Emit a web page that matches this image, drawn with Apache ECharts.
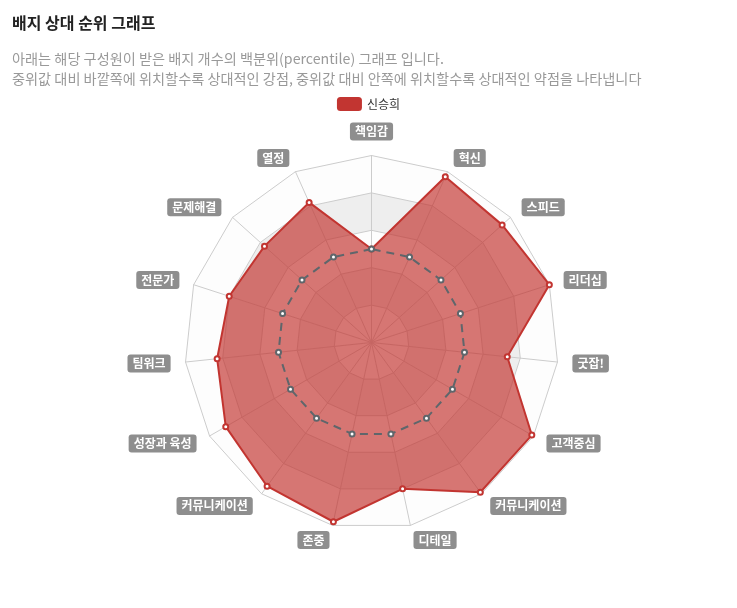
<!DOCTYPE html>
<html>
<head>
<meta charset="utf-8">
<script src="https://cdn.jsdelivr.net/npm/echarts@6/dist/echarts.min.js"></script>
<style>
    html, body { margin: 0; padding: 0; background: #fff; }
    #main { width: 737px; height: 608px; }
</style>
</head>
<body>
<div id="main"></div>
<script>
// 지표 (위에서부터 반시계 방향)
var badgeNames = ['책임감', '열정', '문제해결', '전문가', '팀워크', '성장과 육성', '커뮤니케이션',
    '존중', '디테일', '커뮤니케이션', '고객중심', '굿잡!', '리더십', '스피드', '혁신'];
var memberValues = [50, 82, 77, 80, 83, 90, 95, 98, 80, 99, 99, 73, 100, 94, 97];
var medianValues = [50, 50, 50, 50, 50, 50, 50, 50, 50, 50, 50, 50, 50, 50, 50];
var memberName = '신승희';

var myChart = echarts.init(document.getElementById('main'));

var option = {
    textStyle: {
        fontFamily: 'Noto Sans CJK KR'
    },
    title: {
        text: '배지 상대 순위 그래프',
        subtext: '아래는 해당 구성원이 받은 배지 개수의 백분위(percentile) 그래프 입니다.\n중위값 대비 바깥쪽에 위치할수록 상대적인 강점, 중위값 대비 안쪽에 위치할수록 상대적인 약점을 나타냅니다',
        left: 7,
        top: 10,
        itemGap: 18,
        textStyle: {
            color: '#222',
            fontSize: 16,
            fontWeight: 'bold',
            fontFamily: 'Noto Sans CJK KR'
        },
        subtextStyle: {
            color: '#999',
            fontSize: 14.2,
            lineHeight: 20,
            fontFamily: 'Noto Sans CJK KR'
        }
    },
    legend: {
        data: [memberName],
        top: 92,
        left: 'center',
        itemWidth: 25,
        itemHeight: 14,
        textStyle: {
            color: '#333',
            fontSize: 12
        }
    },
    radar: {
        center: [371.5, 342.5],
        radius: 187,
        splitNumber: 5,
        nameGap: 15,
        indicator: badgeNames.map(function (n) {
            return {name: n, max: 100};
        }),
        axisName: {
            color: '#fff',
            backgroundColor: '#8e8e8e',
            borderRadius: 3,
            padding: [3, 5],
            fontSize: 12,
            fontWeight: 'bold'
        },
        axisLine: {
            lineStyle: {color: '#ccc'}
        },
        splitLine: {
            lineStyle: {color: '#ccc'}
        },
        splitArea: {
            show: true,
            areaStyle: {
                color: ['rgba(250,250,250,0.3)', 'rgba(200,200,200,0.3)']
            }
        }
    },
    series: [
        {
            type: 'radar',
            data: [
                {
                    value: memberValues,
                    name: memberName,
                    symbol: 'emptyCircle',
                    symbolSize: 5,
                    itemStyle: {color: '#c23531', borderWidth: 1},
                    lineStyle: {color: '#c23531', width: 2},
                    areaStyle: {color: '#c23531', opacity: 0.68}
                }
            ]
        },
        {
            type: 'radar',
            z: 3,
            data: [
                {
                    value: medianValues,
                    name: '중위값',
                    symbol: 'emptyCircle',
                    symbolSize: 5,
                    itemStyle: {color: '#5f666b', borderWidth: 1},
                    lineStyle: {color: '#5f666b', width: 2, type: [8, 6]}
                }
            ]
        }
    ]
};
myChart.setOption(option);
</script>
</body>
</html>
